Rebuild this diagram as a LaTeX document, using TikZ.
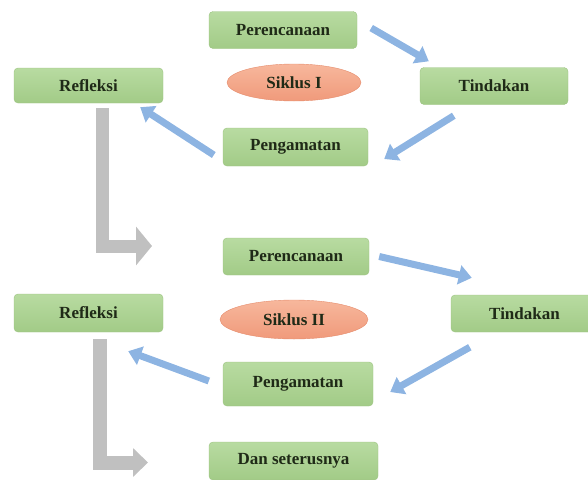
\documentclass[tikz,border=0pt]{standalone}
\usepackage{fontspec}
\setmainfont{Liberation Serif}
\usetikzlibrary{arrows.meta, shapes.geometric}
\definecolor{greentop}{HTML}{B8DBA1}
\definecolor{greenbot}{HTML}{A2CB87}
\definecolor{greenedge}{HTML}{9CC381}
\definecolor{salmontop}{HTML}{F7B79C}
\definecolor{salmonbot}{HTML}{F09A7B}
\definecolor{salmonedge}{HTML}{E58C6C}
\definecolor{textdark}{HTML}{1F2A17}
\definecolor{flowblue}{HTML}{8DB4E2}
\definecolor{jumpgray}{HTML}{C0C0C0}

\begin{document}
\begin{tikzpicture}[x=1pt, y=-1pt, >=Stealth,
  stagebox/.style={draw=greenedge, rounded corners=4pt, top color=greentop, bottom color=greenbot,
    minimum width=148pt, minimum height=37pt, inner sep=2pt, text=textdark,
    font=\fontsize{17}{19}\selectfont\bfseries},
  siklus/.style={ellipse, draw=salmonedge, top color=salmontop, bottom color=salmonbot,
    minimum width=134pt, minimum height=37pt, inner sep=1pt, text=textdark,
    font=\fontsize{17}{19}\selectfont\bfseries},
  bluearrow/.style={draw=flowblue, line width=7pt, -{Triangle[width=19pt, length=13pt]}},
  grayarrow/.style={draw=jumpgray, line width=13pt, line join=miter, -{Triangle[width=38pt, length=16pt]}}]
  \useasboundingbox (0,0) rectangle (588,479);
  % Siklus I
  \node[stagebox] (per1) at (283,30) {Perencanaan};
  \node[stagebox, minimum width=149pt, minimum height=35pt] (ref1) at (88.5,85.5) {Refleksi};
  \node[siklus] (sik1) at (294,82.5) {Siklus I};
  \node[stagebox] (tin1) at (494,86) {Tindakan};
  \node[stagebox, minimum width=145pt, minimum height=38pt] (pen1) at (295.5,147) {Pengamatan};
  % Blue arrows round the first cycle
  \draw[bluearrow] ([shift={(14,-2)}]per1.east) -- ([shift={(9,-6)}]tin1.north west);
  \draw[bluearrow] ([shift={(34,11)}]tin1.south west) -- ([shift={(16,12)}]pen1.east);
  \draw[bluearrow] ([shift={(-9,8)}]pen1.west) -- ([shift={(-23,4)}]ref1.south east);
  % Gray arrow down to the next cycle
  \coordinate (go2) at (152,246);
  \draw[grayarrow] ([shift={(13.5,5)}]ref1.south) |- (go2);
  % Siklus II
  \node[stagebox, minimum width=146pt] (per2) at (296,256.5) {Perencanaan};
  \node[stagebox, minimum width=149pt, minimum height=38pt] (ref2) at (88.5,313) {Refleksi};
  \node[siklus, minimum width=148pt, minimum height=39pt] (sik2) at (294,319.5) {Siklus II};
  \node[stagebox, minimum width=147pt] (tin2) at (524.5,313.5) {Tindakan};
  \node[stagebox, minimum width=150pt, minimum height=44pt] (pen2) at (298,384) {Pengamatan};
  % Blue arrows round the second cycle
  \draw[bluearrow] ([shift={(10,0)}]per2.east) -- ([shift={(21,-17)}]tin2.north west);
  \draw[bluearrow] ([shift={(19,15)}]tin2.south west) -- ([shift={(17,8)}]pen2.east);
  \draw[bluearrow] ([shift={(-14,-3)}]pen2.west) -- ([shift={(-35,19)}]ref2.south east);
  % Gray arrow to the rest
  \coordinate (go3) at (148,462.5);
  \draw[grayarrow, line width=14pt, -{Triangle[width=28pt, length=15pt]}] ([shift={(11,7)}]ref2.south) |- (go3);
  \node[stagebox, minimum width=169pt, minimum height=38pt] (dan) at (293.5,461) {Dan seterusnya};
\end{tikzpicture}
\end{document}
